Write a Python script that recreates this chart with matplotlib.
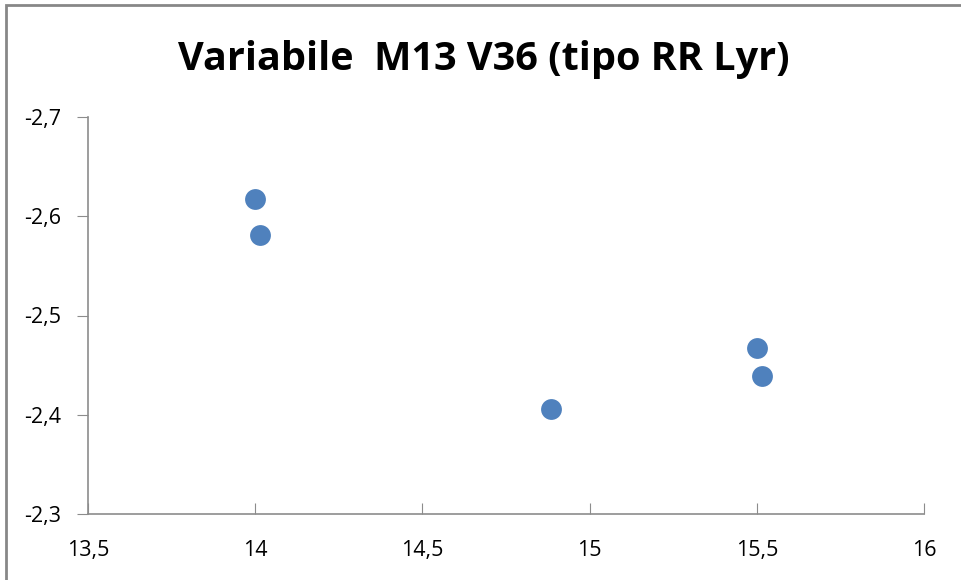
import matplotlib.pyplot as plt
from matplotlib.patches import Rectangle
from matplotlib.ticker import FuncFormatter

# letture dal grafico
mag = [13.998, 14.015, 14.885, 15.50, 15.515]
col = [-2.617, -2.581, -2.406, -2.467, -2.439]
xticks = [13.5, 14, 14.5, 15, 15.5, 16]
yticks = [-2.7, -2.6, -2.5, -2.4, -2.3]

plt.rcParams['font.family'] = ['Open Sans', 'DejaVu Sans']

fig = plt.figure(figsize=(9.61, 5.8), dpi=100)
ax = fig.add_axes([88/961, 66/580, 836/961, 397/580])

# bordo esterno del grafico
fig.patches.append(Rectangle((6/961, -0.1), 1.2, 1 - 5/580 + 0.1,
                             transform=fig.transFigure, fill=False,
                             edgecolor='#878787', linewidth=2))

ax.plot(mag, col, 'o', color='#4F81BD', markersize=15, markeredgewidth=0)

ax.set_xlim(13.5, 16)
ax.set_ylim(-2.3, -2.7)
ax.set_xticks(xticks)
ax.set_yticks(yticks)

fmt = FuncFormatter(lambda v, p: ('%g' % round(v, 2)).replace('.', ','))
ax.xaxis.set_major_formatter(fmt)
ax.yaxis.set_major_formatter(fmt)

for s in ['top', 'right']:
    ax.spines[s].set_visible(False)
for s in ['left', 'bottom']:
    ax.spines[s].set_color('#8c8c8c')
    ax.spines[s].set_linewidth(1.2)

ax.tick_params(axis='x', direction='in', length=8, color='#8c8c8c',
               labelsize=15.5, pad=19)
ax.tick_params(axis='y', direction='out', length=8, color='#8c8c8c',
               labelsize=15.5, pad=11)

fig.text(0.503, 0.897, 'Variabile  M13 V36 (tipo RR Lyr)', ha='center',
         va='center', fontsize=28.5, fontweight='bold')

fig.savefig('out.png', dpi=100)
